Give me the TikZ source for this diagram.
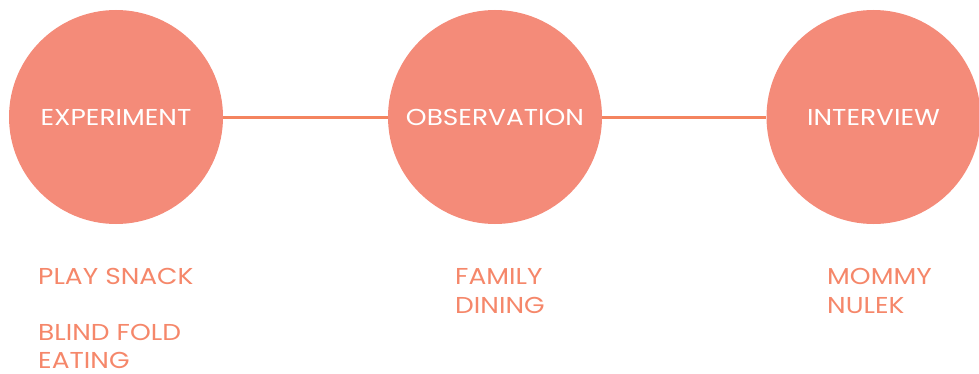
\documentclass[tikz,border=0pt]{standalone}
\usepackage{fontspec}
\setmainfont{Poppins}
\newfontfamily\gfont[FakeStretch=1.15]{Poppins}
\definecolor{circfill}{HTML}{F48B79}
\definecolor{linecol}{HTML}{F4845F}
\definecolor{textcol}{HTML}{F5876A}
\begin{document}
\begin{tikzpicture}[x=1pt,y=1pt,
  bubble/.style={circle,fill=circfill,draw=none,minimum size=214pt,inner sep=0pt,text=white,font=\gfont\fontsize{23}{28}\selectfont},
  link/.style={linecol,line width=3pt},
  item/.style={anchor=base west,inner sep=0pt,text depth=0pt,text=textcol,font=\gfont\fontsize{23}{28}\selectfont}]
\useasboundingbox (0,0) rectangle (979,373);
\node[bubble] (exp) at (116,256) {EXPERIMENT};
\node[bubble] (obs) at (495,256) {OBSERVATION};
\node[bubble] (int) at (873.5,256) {INTERVIEW};
\draw[link] (exp.east) -- (obs.west);
\draw[link] (obs.east) -- (int.west);
\node[item] (t1) at (38,89) {PLAY SNACK};
\node[item] (t2) at (38,33) {BLIND FOLD};
\node[item] (t3) at (38,5) {EATING};
\node[item] (t4) at (455,89) {FAMILY};
\node[item] (t5) at (455,60) {DINING};
\node[item] (t6) at (827,89) {MOMMY};
\node[item] (t7) at (827,60) {NULEK};
\end{tikzpicture}
\end{document}
